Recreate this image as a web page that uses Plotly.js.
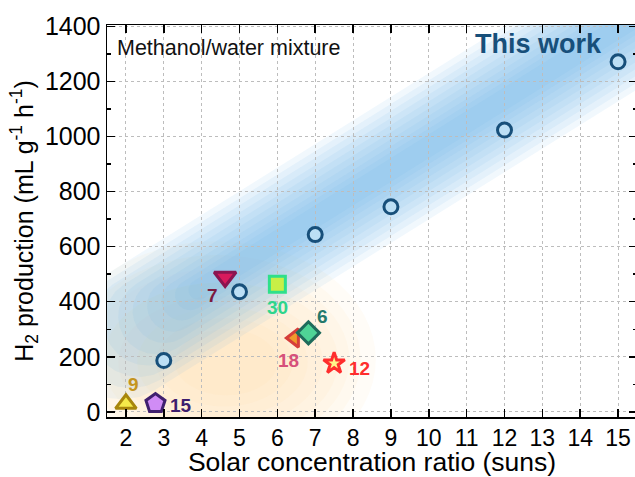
<!DOCTYPE html>
<html>
<head>
<meta charset="utf-8">
<script src="https://cdn.plot.ly/plotly-3.0.1.min.js"></script>
<style>
html,body{margin:0;padding:0;overflow:hidden;background:#fff;}
#chart{width:640px;height:477px;}
</style>
</head>
<body>
<div id="chart"></div>
<script>
// ---- data ----
var thisWorkX = [3, 5, 7, 9, 12, 15];
var thisWorkY = [186, 436, 644, 745, 1024, 1272];

var refLabels = ['9', '15', '7', '30', '18', '6', '12'];
var refX = [2.0, 2.78, 4.62, 6.0, 6.45, 6.82, 7.5];
var refY = [29, 30, 490, 464, 268, 287, 176];

var xTicks = [2,3,4,5,6,7,8,9,10,11,12,13,14,15];
var yTicks = [0,200,400,600,800,1000,1200,1400];

// ---- styles ----
var refSymbols = ['triangle-up','pentagon','triangle-down','square','triangle-left','diamond','star'];
var refSizes   = [18, 20, 19, 16, 16, 17, 16];
var refFill    = ['#f5ea4a','#d08cf5','#d71a5c','#c8ef47','#f09a2b','#4fd496','#fff58a'];
var refEdge    = ['#a8860c','#40206e','#8a1550','#2ee08a','#d63d3a','#1f6b5b','#ff2d2d'];
var labelColor = ['#c49420','#3d1d6e','#7b1a3e','#2fd58c','#d6507a','#25796c','#ff2d2d'];
var labelDx    = [8, 26, -13, 0, -6, 14, 25];
var labelDy    = [19, -2, -19, -23, -22, 16, -5];

var FONT = 'Liberation Sans, Arial, sans-serif';
var XR = [1.5, 15.5], YR = [-19, 1406];
var PW = 530, PH = 392;

// ---- decorative glow (background only) ----
var bandA = [1.9, 270], bandB = [16.0, 1480];
var bandHalf = [62, 56, 50, 44, 38, 32, 26, 20, 15, 10];
var bandInset = [0, 10, 20, 30, 40, 50, 60, 70, 80, 90];
var blobs = [[0.2,8.6,-240,620],[0.6,8.2,-190,570],[1.0,7.9,-140,520],[1.4,7.6,-100,470],[1.8,7.2,-60,420],[2.3,6.8,-20,380],[2.8,6.4,20,340],[3.3,6.0,60,300]];

var sx = PW/(XR[1]-XR[0]), sy = PH/(YR[1]-YR[0]);
function capsule(A, B, h, inset){
  var a=[A[0]*sx, A[1]*sy], b=[B[0]*sx, B[1]*sy];
  var dx=b[0]-a[0], dy=b[1]-a[1], L=Math.sqrt(dx*dx+dy*dy);
  var d=[dx/L, dy/L], n=[-d[1], d[0]];
  a=[a[0]+d[0]*inset, a[1]+d[1]*inset];
  var pts=[];
  var base=Math.atan2(n[1], n[0]);
  var k;
  for(k=0;k<=12;k++){ var t=base - Math.PI*k/12; pts.push([b[0]+h*Math.cos(t), b[1]+h*Math.sin(t)]); }
  for(k=0;k<=12;k++){ var t2=base + Math.PI - Math.PI*k/12; pts.push([a[0]+h*Math.cos(t2), a[1]+h*Math.sin(t2)]); }
  return pts.map(function(p,i){ return (i?'L':'M')+(p[0]/sx).toFixed(4)+','+(p[1]/sy).toFixed(2); }).join(' ')+' Z';
}

var shapes = [];
blobs.forEach(function(b){
  shapes.push({type:'circle', xref:'x', yref:'y', x0:b[0], x1:b[1], y0:b[2], y1:b[3],
    fillcolor:'rgb(250,212,135)', opacity:0.072, line:{width:0}, layer:'below'});
});
bandHalf.forEach(function(h,i){
  shapes.push({type:'path', xref:'x', yref:'y', path:capsule(bandA, bandB, h, bandInset[i]),
    fillcolor:'rgb(105,180,235)', opacity:0.09, line:{width:0}, layer:'below'});
});

var traces = [
  {
    x: thisWorkX, y: thisWorkY, type:'scatter', mode:'markers', cliponaxis:false,
    marker:{symbol:'circle', size:14, opacity:1, color:'#bcdff5', line:{color:'#174f7a', width:3}},
    hoverinfo:'skip'
  },
  {
    x: refX, y: refY, type:'scatter', mode:'markers', cliponaxis:false,
    marker:{symbol:refSymbols, size:refSizes, opacity:1, color:refFill, line:{color:refEdge, width:3}},
    hoverinfo:'skip'
  }
];

var annotations = refLabels.map(function(t,i){
  return {x:refX[i], y:refY[i], xref:'x', yref:'y', text:'<b>'+t+'</b>', showarrow:false,
    xshift:labelDx[i], yshift:labelDy[i], xanchor:'center', yanchor:'middle',
    font:{family:FONT, size:19, color:labelColor[i]}};
});
annotations.push({xref:'paper', yref:'paper', x:0.016, y:0.941, xanchor:'left', yanchor:'middle',
  text:'Methanol/water mixture', showarrow:false, font:{family:FONT, size:21.5, color:'#111'}});
annotations.push({xref:'paper', yref:'paper', x:0.6906, y:0.951, xanchor:'left', yanchor:'middle',
  text:'<b>This work</b>', showarrow:false, font:{family:FONT, size:27, color:'#174f7a'}});

var axisCommon = {
  showline:true, linecolor:'#000', linewidth:1.5, mirror:'ticks',
  ticks:'inside', ticklen:8, tickwidth:1.5, tickcolor:'#000',
  showgrid:true, gridcolor:'#bdbdbd', gridwidth:1, griddash:'3px,3px',
  zeroline:false
};

var layout = {
  width:640, height:477,
  margin:{l:107, r:3, t:25, b:60},
  paper_bgcolor:'#fff', plot_bgcolor:'rgba(0,0,0,0)',
  showlegend:false,
  font:{family:FONT, color:'#000'},
  xaxis: Object.assign({}, axisCommon, {
    range:XR, tickmode:'array', tickvals:xTicks, ticktext:xTicks.map(String),
    tickfont:{family:FONT, size:23, color:'#000'},
    title:{text:'Solar concentration ratio (suns)', font:{family:FONT, size:26.5, color:'#000'}, standoff:5}
  }),
  yaxis: Object.assign({}, axisCommon, {
    range:YR, tickmode:'array', tickvals:yTicks, ticktext:yTicks.map(String),
    tickfont:{family:FONT, size:25, color:'#000'},
    minor:{dtick:100, tick0:0, ticks:'inside', ticklen:4, tickwidth:1.5, tickcolor:'#000', showgrid:false},
    title:{text:'H<sub>2</sub> production (mL g<sup>-1</sup> h<sup>-1</sup>)', font:{family:FONT, size:25, color:'#000'}, standoff:4}
  }),
  shapes: shapes,
  annotations: annotations
};

Plotly.newPlot('chart', traces, layout, {staticPlot:true, displayModeBar:false});
</script>
</body>
</html>
